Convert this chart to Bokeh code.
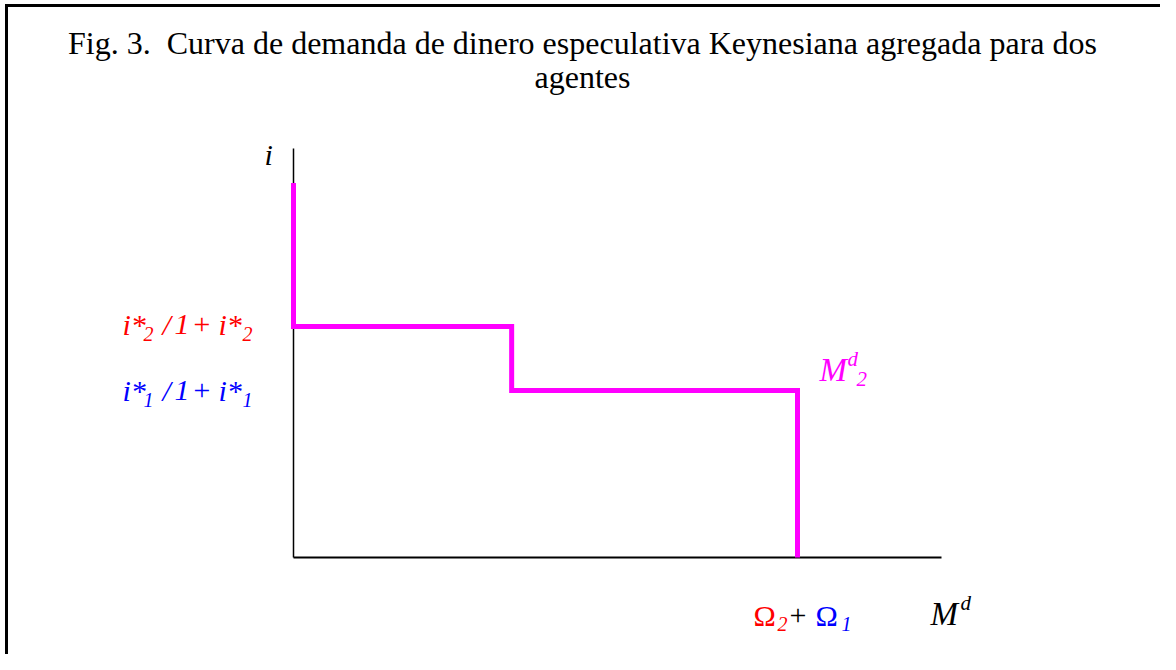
from bokeh.plotting import figure
from bokeh.models import Range1d, Label
from bokeh.embed import file_html
from bokeh.resources import INLINE

# ---- data (schematic units) ----
step_x = [0.0, 0.0, 3.03, 3.03, 7.0, 7.0]      # money demand breakpoints (Ω2 ... Ω2+Ω1)
step_y = [5.2, 3.21, 3.21, 2.32, 2.32, 0.0]     # interest levels (top, i*2/(1+i*2), i*1/(1+i*1), 0)
x_axis_end = 9.0
y_axis_end = 5.68

title_lines = ["Fig. 3.\u00a0 Curva de demanda de dinero especulativa Keynesiana agregada para dos", "agentes"]

# ---- layout helpers ----
FIG_X0, FIG_Y0 = 0, 0          # picture position of figure's top-left
W, H = 1160, 654
PX = 72.0                      # pixels per unit
ORIG_X, ORIG_Y = 293, 557      # picture position of origin

x_start = (FIG_X0 - ORIG_X) / PX
x_end = x_start + W / PX
y_top = (ORIG_Y - FIG_Y0) / PX
y_bot = y_top - H / PX

def dx(px):
    return x_start + (px - FIG_X0) / PX

def dy(py):
    return y_top - (py - FIG_Y0) / PX

p = figure(width=W, height=H, output_backend="svg", toolbar_location=None,
           x_range=Range1d(x_start, x_end), y_range=Range1d(y_bot, y_top),
           min_border=0, min_border_left=0, min_border_right=0,
           min_border_top=0, min_border_bottom=0)
p.axis.visible = False
p.grid.visible = False
p.outline_line_color = None
p.background_fill_color = "white"
p.border_fill_color = "white"

# frame border (top and left visible)
p.segment(x0=[dx(6), dx(6)], y0=[dy(5), dy(5)], x1=[x_end + 1, dx(6)], y1=[dy(5), y_bot - 1],
          line_color="black", line_width=3, line_cap="square")

# axes
p.line([0, 0], [0, y_axis_end], line_color="black", line_width=1.5)
p.line([0, x_axis_end], [0, 0], line_color="black", line_width=2)

# step demand curve
p.line(step_x, step_y, line_color="#FF00FF", line_width=5, line_join="miter", line_cap="butt")

SERIF = "Liberation Serif"

def lab(text, px, py, size, color="black", style="normal", align="left"):
    py = py - 0.4 * size
    p.add_layout(Label(x=dx(px), y=dy(py), text=text, text_font=SERIF,
                       text_font_size=f"{size}px", text_color=color,
                       text_font_style=style, text_align=align,
                       text_baseline="alphabetic"))

# title
lab(title_lines[0], 582, 55, 32, align="center")
lab(title_lines[1], 582, 89, 32, align="center")

# axis names
lab("i", 264, 166, 30, style="italic")
lab("M", 930, 627, 33, style="italic")
lab("d", 960, 611, 21, style="italic")

# level labels
red, blue, mag = "#FF0000", "#0000FF", "#FF00FF"
for col, sub, base in [(red, "2", 336), (blue, "1", 402)]:
    lab("i*", 122, base, 30, col, "italic")
    lab(sub, 143, base + 5, 20, col, "italic")
    lab("/", 162, base, 30, col, "italic")
    lab("1", 174, base, 30, col, "italic")
    lab("+", 191, base, 30, col, "italic")
    lab("i*", 218, base, 30, col, "italic")
    lab(sub, 242, base + 5, 20, col, "italic")

# curve label
lab("M", 819, 383, 33, mag, "italic")
lab("d", 847, 367, 21, mag, "italic")
lab("2", 856, 387, 21, mag, "italic")

# x-value label
lab("\u03a9", 753, 627, 30, red)
lab("2", 777, 631, 20, red, "italic")
lab("+", 789, 627, 30, "black")
lab("\u03a9", 815, 627, 30, blue)
lab("1", 841, 631, 20, blue, "italic")

open("out.html", "w").write(file_html(p, INLINE))
